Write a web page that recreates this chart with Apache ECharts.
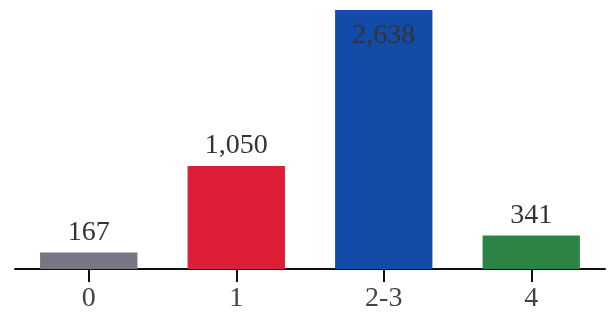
<!DOCTYPE html>
<html>
<head>
<meta charset="utf-8">
<script src="https://cdn.jsdelivr.net/npm/echarts@6/dist/echarts.min.js"></script>
<style>
  html, body { margin: 0; padding: 0; background: #fff; }
  #chart { width: 613px; height: 320px; }
</style>
</head>
<body>
<div id="chart"></div>
<script>
// Household size groups and their counts
const categories = ['0', '1', '2-3', '4'];
const counts = [167, 1050, 2638, 341];
const barColors = ['#7a7585', '#dc1f36', '#134ba8', '#2b8444'];

const FONT = 'Liberation Serif';

const chart = echarts.init(document.getElementById('chart'), null, { renderer: 'canvas' });

const data = counts.map((v, i) => {
  const item = { value: v, itemStyle: { color: barColors[i] } };
  // The tallest bar carries its label inside, near its top
  if (v === Math.max(...counts)) {
    item.label = { position: 'insideTop', distance: 12 };
  }
  return item;
});

chart.setOption({
  animation: false,
  grid: { left: 15, right: 8, top: 10, bottom: 51, containLabel: false },
  xAxis: {
    type: 'category',
    data: categories,
    axisLine: { lineStyle: { color: '#111', width: 2 } },
    axisTick: { show: true, alignWithLabel: true, length: 13, lineStyle: { color: '#111', width: 2 } },
    axisLabel: { color: '#444', fontFamily: FONT, fontSize: 28, margin: 16 }
  },
  yAxis: {
    type: 'value',
    min: 0,
    max: Math.max(...counts),
    show: false,
    splitLine: { show: false }
  },
  series: [{
    type: 'bar',
    data: data,
    barWidth: '66%',
    label: {
      show: true,
      position: 'top',
      distance: 6,
      color: '#333',
      fontFamily: FONT,
      fontSize: 28,
      formatter: p => p.value.toLocaleString('en-US')
    }
  }]
});
</script>
</body>
</html>
